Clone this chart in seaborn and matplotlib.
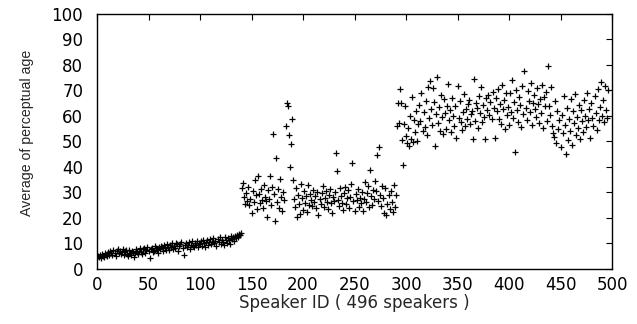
import matplotlib
matplotlib.use("Agg")
import matplotlib.pyplot as plt
import seaborn as sns
import numpy as np
import pandas as pd

# perceptual age per speaker (ids 1..496)
low_group = [
    5.2, 4.8, 5.6, 4.5, 5.9, 5.1, 4.7, 6.3, 5.4, 4.9,
    6.8, 5.5, 7.2, 6.1, 5.3, 7.6, 6.4, 5.0, 6.9, 7.8,
    6.2, 7.1, 5.8, 6.6, 8.0, 5.4, 6.9, 7.3, 6.0, 5.2,
    7.5, 6.3, 5.6, 7.0, 6.7, 4.6, 6.1, 7.9, 6.5, 5.9,
    7.2, 8.1, 6.8, 5.7, 7.7, 8.4, 6.2, 7.4, 8.8, 6.9,
    4.5, 7.8, 8.3, 6.6, 7.1, 9.0, 8.2, 7.5, 6.4, 8.7,
    7.9, 9.2, 8.5, 7.0, 9.6, 8.1, 7.6, 9.9, 8.8, 7.3,
    9.4, 8.6, 10.1, 7.8, 9.1, 8.4, 10.3, 9.7, 7.2, 8.9,
    9.8, 10.4, 8.2, 5.3, 9.5, 10.2, 8.7, 9.3, 10.6, 8.0,
    9.6, 10.8, 9.0, 8.5, 10.1, 9.4, 11.0, 8.8, 10.3, 9.7,
    10.9, 9.2, 11.3, 10.0, 8.6, 10.7, 11.5, 9.5, 10.4, 11.8,
    9.9, 10.6, 12.1, 10.2, 11.0, 8.9, 11.6, 10.5, 12.4, 9.8,
    11.2, 10.7, 9.4, 12.6, 11.5, 10.1, 12.0, 11.3, 9.7, 12.8,
    11.9, 12.5, 11.1, 13.0, 12.2, 13.4, 12.7, 13.8, 13.2, 14.1,
]
mid_group = [
    31.6, 33.6, 28.4, 25.3, 29.7, 26.8, 32.1, 24.9, 27.5, 21.8,
    30.4, 26.2, 34.8, 28.9, 23.6, 36.5, 29.3, 25.7, 31.2, 27.0,
    24.1, 33.0, 28.2, 26.5, 20.5, 30.8, 27.4, 36.5, 25.0, 32.3,
    53.0, 29.6, 18.8, 43.4, 26.3, 31.5, 24.0, 35.2, 28.1, 22.7,
    30.0, 26.9, 56.0, 65.0, 63.9, 52.5, 40.0, 49.0, 58.7, 34.9,
    27.3, 24.2, 31.8, 20.5, 29.0, 25.5, 21.6, 33.4, 27.8, 23.2,
    30.5, 26.0, 28.7, 22.4, 32.9, 25.1, 29.4, 27.1, 24.6, 31.0,
    26.4, 28.8, 23.8, 30.2, 21.0, 27.6, 25.3, 29.9, 32.4, 24.4,
    27.9, 30.7, 26.1, 23.5, 29.2, 31.3, 25.8, 22.0, 28.3, 26.6,
    30.0, 45.6, 38.6, 27.2, 24.8, 31.6, 28.5, 26.0, 23.0, 29.7,
    32.0, 25.4, 27.7, 30.9, 24.0, 28.2, 33.5, 41.4, 26.7, 22.6,
    29.5, 27.0, 31.4, 24.5, 28.0, 25.9, 30.3, 22.8, 27.4, 34.0,
    26.3, 29.8, 32.7, 24.2, 39.0, 28.6, 25.0, 31.1, 27.5, 34.6,
    30.4, 44.7, 26.8, 47.7, 29.0, 24.7, 32.5, 27.9, 22.1, 31.7,
    21.0, 25.6, 28.9, 23.4, 30.6, 26.2, 22.5, 33.0, 24.3, 29.1,
]
high_group = [
    56.0, 64.9, 57.4, 70.7, 65.2, 50.6, 40.8, 57.0, 63.8, 52.1,
    49.5, 55.3, 48.2, 60.1, 51.0, 67.4, 49.8, 58.6, 53.7, 62.0,
    50.3, 56.8, 64.5, 58.0, 69.2, 54.1, 61.7, 55.6, 66.0, 52.4,
    71.5, 59.3, 73.9, 62.8, 56.5, 71.0, 65.4, 48.4, 60.6, 75.4,
    57.2, 63.5, 54.0, 68.1, 59.8, 52.9, 66.7, 61.2, 55.0, 64.0,
    72.5, 58.4, 62.3, 53.6, 67.0, 60.0, 56.2, 63.9, 51.2, 71.9,
    59.1, 65.8, 57.7, 54.4, 61.5, 68.6, 55.9, 62.6, 58.8, 64.7,
    66.3, 56.9, 60.9, 62.1, 51.0, 74.5, 58.2, 65.1, 63.3, 55.3,
    67.8, 61.0, 71.2, 57.5, 64.2, 59.6, 51.1, 66.9, 62.4, 68.4,
    60.3, 65.6, 58.9, 69.5, 63.0, 51.4, 67.1, 61.8, 70.4, 59.0,
    64.8, 57.0, 72.3, 62.7, 66.2, 54.8, 69.0, 60.5, 63.6, 56.3,
    68.9, 61.4, 74.0, 59.4, 65.3, 46.0, 70.1, 62.2, 57.8, 67.5,
    64.3, 55.5, 71.6, 60.8, 77.8, 63.1, 58.5, 69.8, 66.0, 61.6,
    73.0, 56.6, 65.0, 68.3, 62.9, 59.7, 70.9, 64.6, 57.4, 66.5,
    61.3, 72.0, 55.2, 67.3, 63.8, 69.4, 58.1, 79.6, 64.1, 60.2,
    71.2, 56.0, 53.5, 51.8, 66.0, 49.6, 62.0, 55.0, 58.3, 47.9,
    60.5, 53.2, 68.0, 56.6, 45.2, 63.0, 50.4, 58.9, 54.1, 66.8,
    48.6, 61.9, 57.3, 68.7, 52.6, 59.8, 55.4, 64.4, 50.9, 62.5,
    57.9, 53.8, 66.3, 60.0, 55.7, 69.1, 58.4, 62.9, 51.5, 64.9,
    59.3, 56.1, 67.7, 61.2, 54.4, 70.6, 58.6, 63.7, 73.5, 60.1,
    66.4, 57.6, 71.8, 62.3, 59.4, 70.2,
]

ages = low_group + mid_group + high_group
df = pd.DataFrame({"speaker": np.arange(1, len(ages) + 1), "age": ages})

sns.set_style("white")
plt.rcParams['font.family'] = ['DejaVu Sans']

fig = plt.figure(figsize=(6.37, 3.24), dpi=100)
ax = fig.add_axes([0.1523, 0.1698, 0.8085, 0.7870])

sns.scatterplot(x="speaker", y="age", data=df, marker="+", color="black",
                s=24, linewidth=0.9, ax=ax)

ax.set_xlim(0, 500)
ax.set_ylim(0, 100)
ax.set_xticks(range(0, 501, 50))
ax.set_yticks(range(0, 101, 10))
ax.tick_params(direction="in", length=4, width=0.8, top=True, right=True,
               labelsize=12, colors="black")
ax.tick_params(axis="x", pad=5)
ax.tick_params(axis="y", pad=10)
for s in ax.spines.values():
    s.set_color("black")
    s.set_linewidth(1.0)

ax.set_xlabel("Speaker ID ( 496 speakers )", fontsize=12)
ax.set_ylabel("Average of perceptual age", fontsize=10.2,
              family=['Liberation Sans', 'DejaVu Sans'])
ax.xaxis.set_label_coords(0.5, -0.098)
ax.yaxis.set_label_coords(-0.122, 0.533)

fig.savefig("out.png", dpi=100)
